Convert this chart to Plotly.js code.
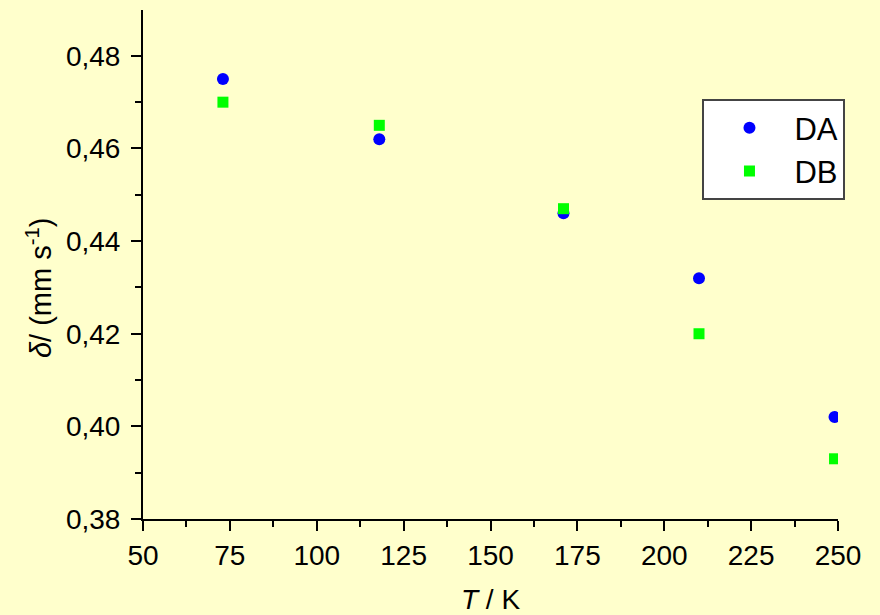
<!DOCTYPE html>
<html>
<head>
<meta charset="utf-8">
<script src="https://cdn.plot.ly/plotly-3.0.1.min.js"></script>
<style>html,body{margin:0;padding:0;background:#FFFFCC;}</style>
</head>
<body>
<div id="chart" style="width:880px;height:615px;"></div>
<script>
const temperatures = [73, 118, 171, 210, 249];
const deltaDA = [0.475, 0.462, 0.446, 0.432, 0.402];
const deltaDB = [0.470, 0.465, 0.447, 0.420, 0.393];
const seriesNames = ["DA", "DB"];

const font = "Liberation Sans, Arial, sans-serif";
const traces = [
  {x: temperatures, y: deltaDA, name: seriesNames[0], type: "scatter", mode: "markers",
   marker: {symbol: "circle", size: 12, color: "#0000FF"}},
  {x: temperatures, y: deltaDB, name: seriesNames[1], type: "scatter", mode: "markers",
   marker: {symbol: "square", size: 11, color: "#00FF00"}}
];
const axisCommon = {
  showline: true, linecolor: "#000", linewidth: 2, mirror: false,
  showgrid: false, zeroline: false,
  ticks: "outside", ticklen: 10, tickwidth: 2, tickcolor: "#000",
  tickfont: {family: font, size: 28, color: "#000"}
};
const layout = {
  width: 880, height: 615,
  paper_bgcolor: "#FFFFCC", plot_bgcolor: "#FFFFCC",
  margin: {l: 143, r: 42, t: 10, b: 96},
  showlegend: true,
  legend: {x: 0.805, y: 0.825, xanchor: "left", yanchor: "top",
    bgcolor: "#FFFFFF", bordercolor: "#444", borderwidth: 2,
    font: {family: font, size: 31, color: "#000"}, itemwidth: 80},
  xaxis: Object.assign({}, axisCommon, {
    range: [50, 250], dtick: 25, tick0: 50,
    minor: {dtick: 12.5, ticklen: 6, tickwidth: 2, tickcolor: "#000", ticks: "outside"},
    title: {text: "<i>T</i> / K", font: {family: font, size: 28, color: "#000"}, standoff: 20}
  }),
  yaxis: Object.assign({}, axisCommon, {
    range: [0.38, 0.4899], dtick: 0.02, tick0: 0.38, tickformat: ".2f",
    ticklabelstandoff: 5,
    minor: {dtick: 0.01, ticklen: 6, tickwidth: 2, tickcolor: "#000", ticks: "outside"}
  }),
  annotations: [{
    text: "<i>δ</i>/ (mm s<sup>-1</sup>)", textangle: -90,
    xref: "paper", yref: "paper", x: -0.1496, y: 0.4538,
    xanchor: "center", yanchor: "middle", showarrow: false,
    font: {family: font, size: 29, color: "#000"}
  }],
  separators: ", "
};
Plotly.newPlot("chart", traces, layout, {displayModeBar: false});
</script>
</body>
</html>
